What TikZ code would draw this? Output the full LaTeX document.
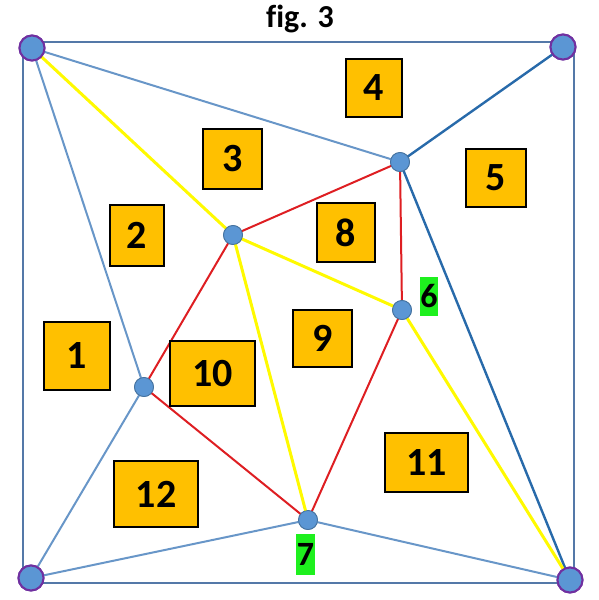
\documentclass[tikz,border=0pt]{standalone}
\usepackage{fontspec}
\setmainfont{Carlito}[Ligatures=NoCommon]
\definecolor{trframe}{RGB}{84,120,168}
\definecolor{trlight}{RGB}{104,150,200}
\definecolor{trdark}{RGB}{40,106,170}
\definecolor{tryellow}{RGB}{255,250,0}
\definecolor{trred}{RGB}{222,30,34}
\definecolor{trdot}{RGB}{91,150,212}
\definecolor{trdotrim}{RGB}{70,115,160}
\definecolor{trpurple}{RGB}{112,48,160}
\definecolor{trorange}{RGB}{255,192,0}
\definecolor{trgreen}{RGB}{30,240,30}
\usetikzlibrary{positioning}

\begin{document}
\begin{tikzpicture}[x=1pt, y=-1pt,
  frame/.style={draw=trframe, line width=2pt, inner sep=0pt},
  corner/.style={circle, fill=trdot, draw=trpurple, line width=2pt, minimum size=25pt, inner sep=0pt},
  pt/.style={circle, fill=trdot, draw=trdotrim, line width=0.8pt, minimum size=19pt, inner sep=0pt},
  lite/.style={draw=trlight, line width=2pt},
  dark/.style={draw=trdark, line width=2.4pt},
  yel/.style={draw=tryellow, line width=3pt},
  rededge/.style={draw=trred, line width=2pt},
  face/.style={fill=trorange, draw=black, line width=1.2pt, inner sep=0pt, font=\fontsize{40}{40}\selectfont\bfseries},
  tag/.style={fill=trgreen, inner sep=0pt, font=\fontsize{34}{34}\selectfont\bfseries}
]
  \useasboundingbox (0,0) rectangle (598,600);

  \node[font=\fontsize{32}{32}\selectfont\bfseries] (title) at (300,19) {fig. 3};
  \node[frame, minimum width=551pt, minimum height=541pt] (box) at (298.5,312.5) {};

  % corners and inner points
  \node[corner] (tl) at (32,48) {};
  \node[corner] (tr) at (563,47) {};
  \node[corner] (bl) at (31,578) {};
  \node[corner] (br) at (570,580) {};
  \node[pt] (a) at (400,162) {};
  \node[pt] (b) at (233,235) {};
  \node[pt] (c) at (402,310) {};
  \node[pt] (d) at (144,387) {};
  \node[pt] (e) at (308,520) {};

  % edges
  \draw[lite] (tl.center) -- (a.center);
  \draw[lite] (tl.center) -- (d.center);
  \draw[lite] (bl.center) -- (d.center);
  \draw[lite] (bl.center) -- (e.center);
  \draw[lite] (e.center) -- (br.center);
  \draw[dark] (tr.center) -- (a.center);
  \draw[dark] (a.center) -- (br.center);
  \draw[yel] (tl.center) -- (b.center);
  \draw[yel] (b.center) -- (c.center);
  \draw[yel] (b.center) -- (e.center);
  \draw[yel] (c.center) -- (br.center);
  \draw[rededge] (a.center) -- (b.center);
  \draw[rededge] (a.center) -- (c.center);
  \draw[rededge] (b.center) -- (d.center);
  \draw[rededge] (d.center) -- (e.center);
  \draw[rededge] (e.center) -- (c.center);

  % redraw points on top
  \foreach \p/\q in {tl/corner, tr/corner, bl/corner, br/corner, a/pt, b/pt, c/pt, d/pt, e/pt}
    \node[\q] at (\p.center) {};

  % face labels
  \node[face, minimum width=66pt, minimum height=68pt] (f1) at (77,356) {1};
  \node[face, minimum width=54pt, minimum height=61pt] (f2) at (137,235.5) {2};
  \node[face, minimum width=59pt, minimum height=60pt] (f3) at (232.5,159) {3};
  \node[face, minimum width=56pt, minimum height=58pt] (f4) at (374,88) {4};
  \node[face, minimum width=60pt, minimum height=58pt] (f5) at (496,178) {5};
  \node[face, minimum width=58pt, minimum height=59pt] (f8) at (346,232.5) {8};
  \node[face, minimum width=59pt, minimum height=57pt] (f9) at (322.5,338.5) {9};
  \node[face, minimum width=85pt, minimum height=65pt] (f10) at (212.5,373.5) {10};
  \node[face, minimum width=83pt, minimum height=59pt] (f11) at (426.5,462.5) {11};
  \node[face, minimum width=84pt, minimum height=66pt] (f12) at (156,494) {12};

  \node[tag, minimum width=18pt, minimum height=39pt] (t6) at (429,296.5) {6};
  \node[tag, minimum width=19pt, minimum height=41pt] (t7) at (305.5,554.5) {7};
\end{tikzpicture}
\end{document}
